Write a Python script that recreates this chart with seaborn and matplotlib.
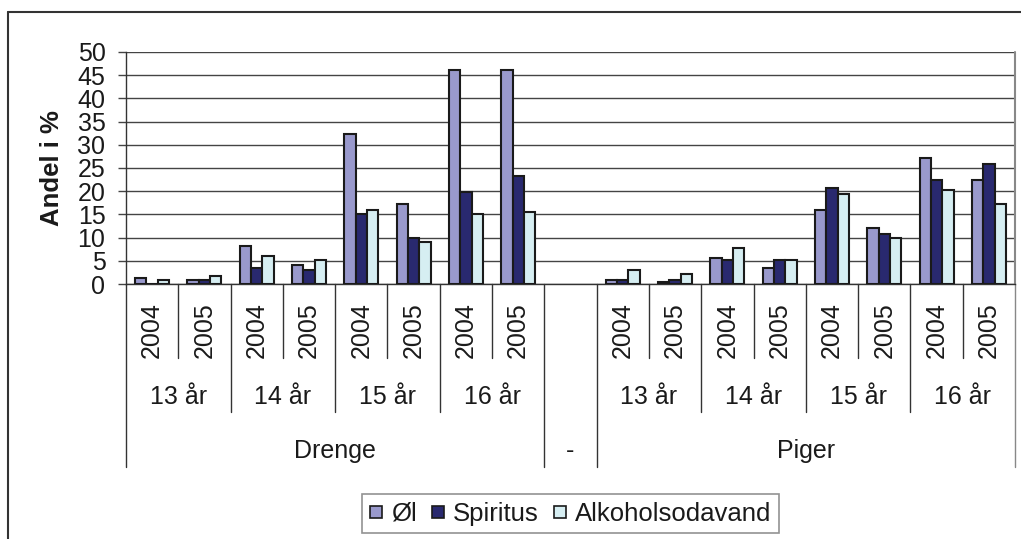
import numpy as np
import pandas as pd
import matplotlib
matplotlib.use("Agg")
import matplotlib.pyplot as plt
import seaborn as sns
from matplotlib.lines import Line2D
from matplotlib.transforms import blended_transform_factory

# ---------------- data ----------------
genders = ["Drenge", "Piger"]
ages = ["13 år", "14 år", "15 år", "16 år"]
years = ["2004", "2005"]
series = ["Øl", "Spiritus", "Alkoholsodavand"]
colors = ["#9999CC", "#29296F", "#D6EEF2"]

drenge_oel = [1.4, 0.9, 8.2, 4.2, 32.3, 17.2, 46.1, 46.1]
drenge_spiritus = [0.0, 0.9, 3.4, 3.0, 15.1, 9.9, 19.8, 23.2]
drenge_alko = [0.9, 1.8, 6.0, 5.2, 15.9, 9.1, 15.1, 15.5]
piger_oel = [0.9, 0.4, 5.6, 3.4, 15.9, 12.1, 27.1, 22.4]
piger_spiritus = [0.9, 0.9, 5.2, 5.2, 20.7, 10.8, 22.4, 25.8]
piger_alko = [3.0, 2.2, 7.7, 5.2, 19.4, 9.9, 20.2, 17.2]
yticks = list(range(0, 55, 5))

values = {
    "Drenge": [drenge_oel, drenge_spiritus, drenge_alko],
    "Piger": [piger_oel, piger_spiritus, piger_alko],
}

# slot order: Drenge (8) | '-' | Piger (8)
slots = []
rows = []
for gi, g in enumerate(genders):
    if gi == 1:
        slots.append("-")
    k = 0
    for a in ages:
        for y in years:
            key = f"{g}|{a}|{y}"
            slots.append(key)
            for si, s in enumerate(series):
                rows.append({"slot": key, "serie": s, "value": values[g][si][k]})
            k += 1
df = pd.DataFrame(rows)

# ---------------- figure ----------------
W, H, DPI = 1021, 539, 100
sns.set_theme(style="white")
plt.rcParams["font.family"] = ["Liberation Sans", "DejaVu Sans"]
fig = plt.figure(figsize=(W / DPI, H / DPI), dpi=DPI)

L, R, T, B = 126, 1015, 52, 284
ax = fig.add_axes([L / W, 1 - B / H, (R - L) / W, (B - T) / H])

sns.barplot(data=df, x="slot", y="value", hue="serie", order=slots,
            hue_order=series, palette=colors, saturation=1, width=0.65,
            edgecolor="#1a1a1a", linewidth=1.5, errorbar=None, ax=ax,
            legend=False, zorder=3)

ax.set_xlim(-0.5, len(slots) - 0.5)
ax.set_ylim(0, 50)
ax.set_yticks(yticks)
ax.set_yticklabels([str(t) for t in yticks], fontsize=18, color="#1a1a1a")
ax.set_xticks([])
ax.set_xlabel("")
ax.set_ylabel("")
ax.yaxis.grid(True, color="#444444", lw=1.0)
ax.set_axisbelow(True)
ax.tick_params(axis="y", which="both", left=True, length=5.8, width=1.0,
               color="#444444", pad=9)
for side in ["top", "right"]:
    ax.spines[side].set_visible(False)
ax.spines["left"].set_color("#333333")
ax.spines["left"].set_linewidth(1.0)
ax.spines["bottom"].set_color("#333333")
ax.spines["bottom"].set_linewidth(1.0)

def fy(py):
    return 1 - py / H

trans = blended_transform_factory(ax.transData, fig.transFigure)

def vline(x, y_end, color="#333333"):
    ax.add_line(Line2D([x, x], [fy(B), fy(y_end)], transform=trans,
                       color=color, lw=1.0, clip_on=False))

# right border of plot area (grey)
ax.add_line(Line2D([len(slots) - 0.5] * 2, [fy(T), fy(B)], transform=trans,
                   color="#888888", lw=1.5, clip_on=False))

# hierarchical category axis
Y_YEAR, Y_AGE, Y_GRP = 330, 397, 451
END_YEAR, END_AGE, END_GRP = 358, 412, 467
fs = 18
pos = 0
for gi, g in enumerate(genders):
    if gi == 1:
        # '-' slot
        ax.text(pos, fy(Y_GRP), "-", transform=trans, ha="center",
                va="center", fontsize=fs, color="#1a1a1a")
        vline(pos - 0.5, END_GRP)
        pos += 1
    g_start = pos
    for ai, a in enumerate(ages):
        a_start = pos
        for yi, y in enumerate(years):
            ax.text(pos, fy(Y_YEAR), y, transform=trans, ha="center",
                    va="center", rotation=90, fontsize=fs, color="#1a1a1a")
            if yi > 0:
                vline(pos - 0.5, END_YEAR)
            pos += 1
        ax.text((a_start + pos - 1) / 2, fy(Y_AGE), a, transform=trans,
                ha="center", va="center", fontsize=fs, color="#1a1a1a")
        if ai > 0:
            vline(a_start - 0.5, END_AGE)
    ax.text((g_start + pos - 1) / 2, fy(Y_GRP), g, transform=trans,
            ha="center", va="center", fontsize=fs, color="#1a1a1a")
    vline(g_start - 0.5, END_GRP)
vline(pos - 0.5, END_GRP, color="#888888")

# y label
fig.text(52 / W, fy(168), "Andel i %", rotation=90, ha="center", va="center",
         fontsize=18.5, fontweight="bold", color="#1a1a1a")

# outer chart border (extends past the image)
fig.add_artist(Line2D([8 / W, 8 / W], [fy(12), 0], transform=fig.transFigure,
                      color="#333333", lw=1.5))
fig.add_artist(Line2D([8 / W, 1], [fy(12), fy(12)], transform=fig.transFigure,
                      color="#333333", lw=1.5))

# legend with square markers
handles = [Line2D([], [], linestyle="none", marker="s", markersize=8.6,
                  markerfacecolor=c, markeredgecolor="#1a1a1a",
                  markeredgewidth=1.2) for c in colors]
leg = fig.legend(handles, series, loc="upper left",
                 bbox_to_anchor=(362 / W, fy(494)), ncol=3, fontsize=18.5,
                 frameon=True, fancybox=False, edgecolor="#777777",
                 handlelength=0.5, handletextpad=0.35,
                 columnspacing=0.55, borderpad=0.3, borderaxespad=0)
leg.get_frame().set_linewidth(1.2)
for t in leg.get_texts():
    t.set_color("#1a1a1a")

fig.savefig("out.png", dpi=DPI)
